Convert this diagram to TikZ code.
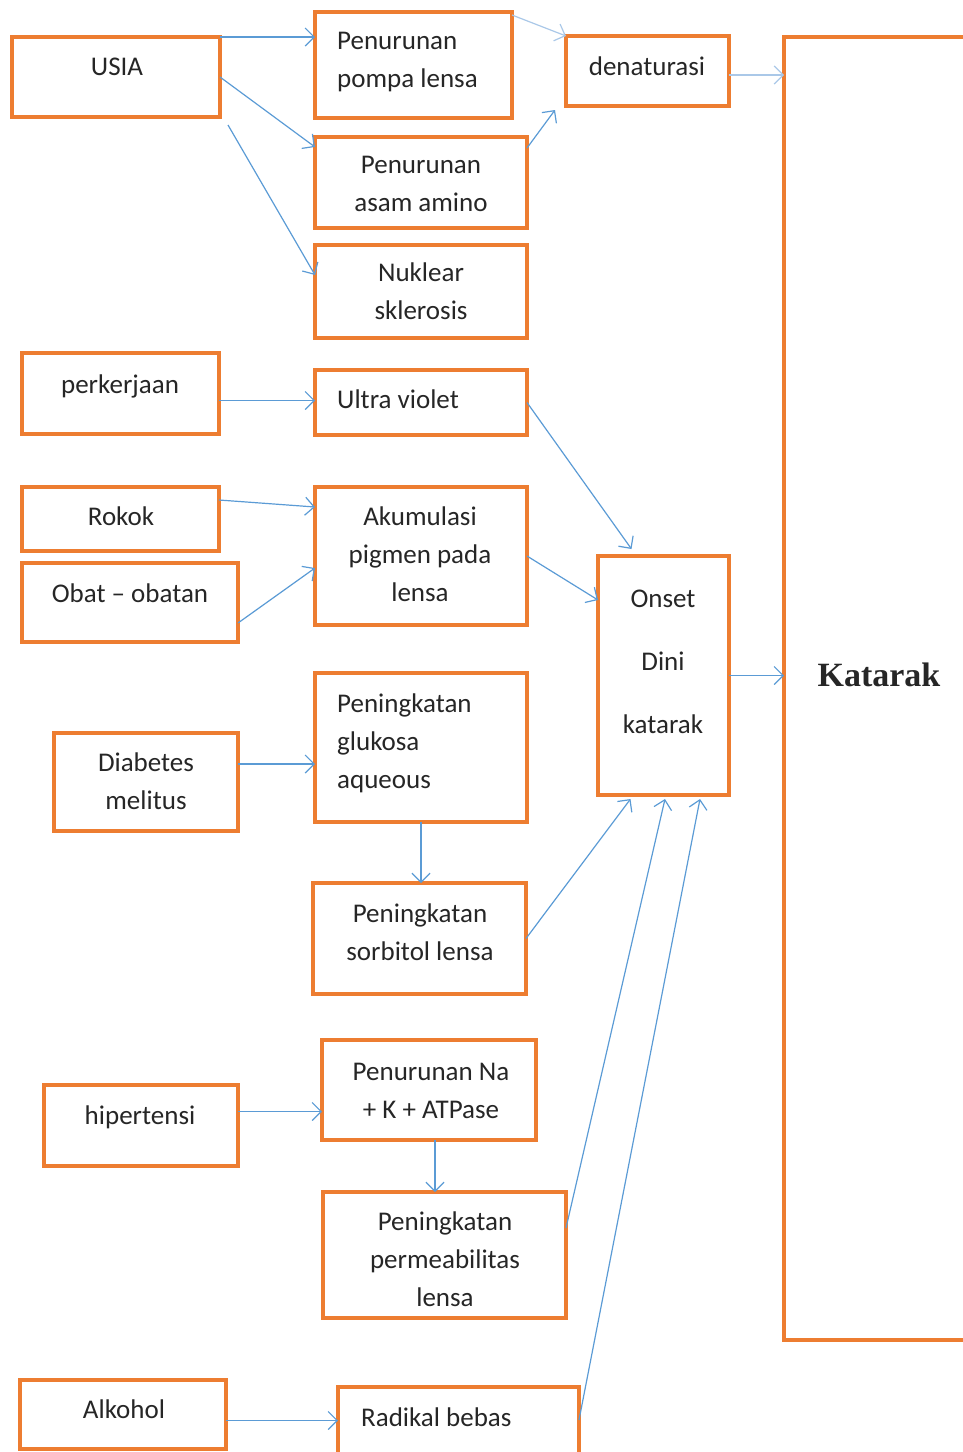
\documentclass[tikz,border=0pt]{standalone}
\usepackage{fontspec}
\setmainfont{Carlito}
\newfontfamily\katfont{Liberation Serif}
\usetikzlibrary{arrows.meta,fit}
\definecolor{boxor}{RGB}{237,125,49}
\definecolor{arrblue}{RGB}{91,155,213}
\definecolor{arrfaint}{RGB}{170,200,232}
\definecolor{txtc}{RGB}{38,38,38}
\begin{document}
\begin{tikzpicture}[x=1pt,y=-1pt,
  box/.style={draw=boxor, line width=4pt, inner sep=0pt, outer sep=0pt, fit={#1}},
  arr/.style={draw=arrblue, line width=1.2pt, -{Straight Barb[length=9pt,width=18pt]}},
  faint/.style={arr, draw=arrfaint},
  txt/.style={anchor=north, yshift=26.81pt, inner sep=0pt, align=center, text=txtc,
    font=\fontsize{27}{38.3}\selectfont},
  txtl/.style={txt, anchor=north west, align=left},
]
\useasboundingbox (0,0) rectangle (963,1452);
\clip (0,0) rectangle (963,1452);

% boxes
\node[box={(12,37) (220,117)}] (usia) {};
\node[box={(315,12) (512,118)}] (pompa) {};
\node[box={(315,137) (527,228)}] (asam) {};
\node[box={(315,245) (527,338)}] (nuk) {};
\node[box={(566,36) (729,106)}] (denat) {};
\node[box={(784,37) (1010,1340)}] (kat) {};
\node[box={(22,353) (219,434)}] (perk) {};
\node[box={(315,370) (527,435)}] (uv) {};
\node[box={(22,487) (219,551)}] (rokok) {};
\node[box={(22,563) (238,642)}] (obat) {};
\node[box={(315,487) (527,625)}] (akum) {};
\node[box={(598,556) (729,795)}] (onset) {};
\node[box={(315,673) (527,822)}] (gluk) {};
\node[box={(54,733) (238,831)}] (diab) {};
\node[box={(313,883) (526,994)}] (sorb) {};
\node[box={(44,1085) (238,1166)}] (hip) {};
\node[box={(322,1040) (536,1140)}] (nak) {};
\node[box={(323,1192) (566,1318)}] (perm) {};
\node[box={(20,1380) (226,1449)}] (alk) {};
\node[box={(338,1387) (579,1480)}] (rad) {};

% texts
\node[txt] (tusia) at (117,75) {\strut USIA};
\node[txtl] (tpompa) at (337,49) {\strut Penurunan\\pompa lensa};
\node[txt] (tasam) at (421,173) {\strut Penurunan\\asam amino};
\node[txt] (tnuk) at (421,281) {\strut Nuklear\\sklerosis};
\node[txt] (tdenat) at (647,75) {\strut denaturasi};
\node[txt] (tperk) at (120,393) {\strut perkerjaan};
\node[txtl] (tuv) at (337,408) {\strut Ultra violet};
\node[txt] (trokok) at (121,525) {\strut Rokok};
\node[txt] (tobat) at (130,602) {\strut Obat -- obatan};
\node[txt] (takum) at (420,525) {\strut Akumulasi\\pigmen pada\\lensa};
\node[txt] (tonset) at (663,607) {\strut Onset\\[24.7pt]Dini\\[24.7pt]katarak};
\node[anchor=base, inner sep=0pt, text=txtc, font=\katfont\bfseries\fontsize{34}{40}\selectfont] (tkat) at (879,686) {Katarak};
\node[txtl] (tgluk) at (337,712) {\strut Peningkatan\\glukosa\\aqueous};
\node[txt] (tdiab) at (146,771) {\strut Diabetes\\melitus};
\node[txt] (tsorb) at (420,922) {\strut Peningkatan\\sorbitol lensa};
\node[txt] (thip) at (140,1124) {\strut hipertensi};
\node[txt] (tnak) at (431,1080) {\strut Penurunan Na\\+ K + ATPase};
\node[txt] (tperm) at (445,1230) {\strut Peningkatan\\permeabilitas\\lensa};
\node[txt] (talk) at (124,1418) {\strut Alkohol};
\node[txtl] (trad) at (361,1426) {\strut Radikal bebas};

% helper coordinates
\coordinate (d1) at ([yshift=-4pt]denat.east);
\coordinate (p1) at ([yshift=-7pt]perk.east);
\coordinate (d2) at ([yshift=18pt]diab.east);
\coordinate (h1) at ([yshift=14pt]hip.east);
\coordinate (n1) at ([xshift=6pt]nak.south);
\coordinate (a1) at ([yshift=-6pt]alk.east);

% connectors
\draw[arr] (usia.north east) -- (pompa.west |- usia.north east);
\draw[arr] ([yshift=-40pt]usia.north east) -- ([yshift=-10pt]asam.north west);
\draw[arr] ([shift={(8pt,-8pt)}]usia.south east) -- ([yshift=-30pt]nuk.north west);
\draw[faint] ([yshift=-3pt]pompa.north east) -- (denat.north west);
\draw[arr] ([yshift=-11pt]asam.north east) -- ([shift={(-11pt,-4pt)}]denat.south west);
\draw[faint] (d1) -- (d1 -| kat.west);
\draw[arr] (p1) -- (p1 -| uv.west);
\draw[arr] (uv.east) -- ([shift={(-32pt,7pt)}]onset.north);
\draw[arr] ([yshift=19pt]rokok.east) -- ([yshift=-20pt]akum.north west);
\draw[arr] ([yshift=19pt]obat.south east) -- ([yshift=-81pt]akum.north west);
\draw[arr] (akum.east) -- ([yshift=-44pt]onset.north west);
\draw[arr] (onset.east) -- (onset.east -| kat.west);
\draw[arr] (d2) -- (d2 -| gluk.west);
\draw[arr] (gluk.south) -- (gluk.south |- sorb.north);
\draw[arr] (sorb.east) -- ([shift={(-33pt,-4pt)}]onset.south);
\draw[arr] (h1) -- (h1 -| nak.west);
\draw[arr] (n1) -- (n1 |- perm.north);
\draw[arr] ([yshift=-36pt]perm.north east) -- ([shift={(1.5pt,-4pt)}]onset.south);
\draw[arr] ([yshift=-33pt]rad.north east) -- ([shift={(36.5pt,-4pt)}]onset.south);
\draw[arr] (a1) -- (a1 -| rad.west);
\end{tikzpicture}
\end{document}
